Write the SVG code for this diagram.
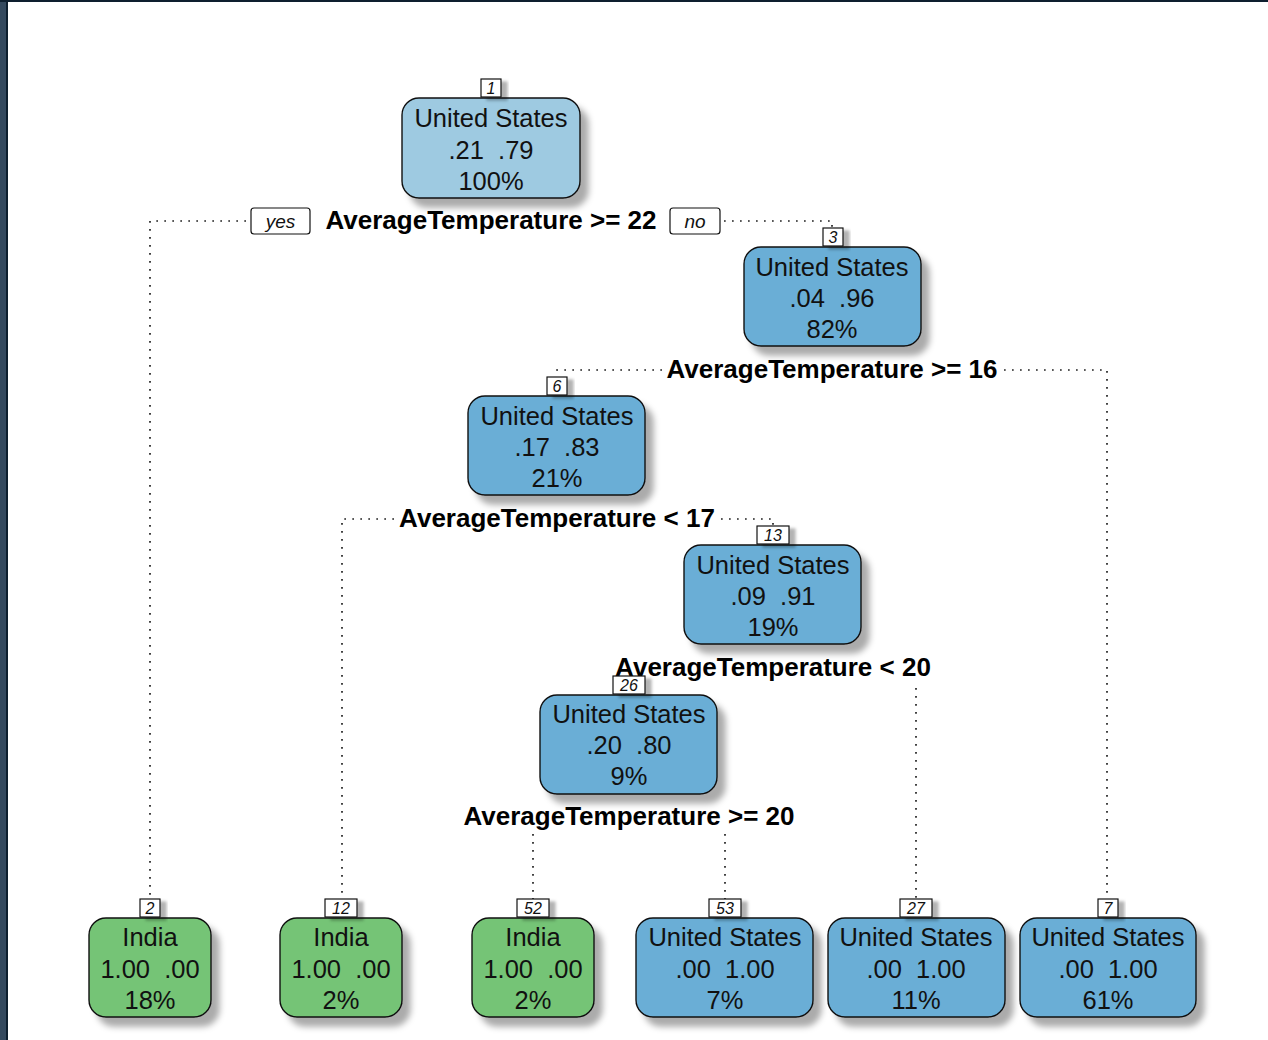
<svg xmlns="http://www.w3.org/2000/svg" width="1268" height="1040" viewBox="0 0 1268 1040">
<defs>
<filter id="sh" x="-10%" y="-10%" width="130%" height="140%">
<feGaussianBlur in="SourceAlpha" stdDeviation="3"/>
<feOffset dx="8" dy="9" result="b"/>
<feFlood flood-color="#000" flood-opacity="0.33"/>
<feComposite in2="b" operator="in"/>
<feMerge><feMergeNode/><feMergeNode in="SourceGraphic"/></feMerge>
</filter>
<filter id="shs" x="-20%" y="-20%" width="160%" height="160%">
<feGaussianBlur in="SourceAlpha" stdDeviation="1.5"/>
<feOffset dx="6" dy="3" result="b"/>
<feFlood flood-color="#000" flood-opacity="0.3"/>
<feComposite in2="b" operator="in"/>
<feMerge><feMergeNode/><feMergeNode in="SourceGraphic"/></feMerge>
</filter>
</defs>
<style>
.box{stroke:#111;stroke-width:1.4;filter:url(#sh)}
.us1{fill:#9ecae1}
.us{fill:#6baed6}
.in{fill:#74c476}
.num{fill:#fff;stroke:#111;stroke-width:1.2;filter:url(#shs)}
.nt{font-family:"Liberation Sans",Arial,sans-serif;font-size:16px;font-style:italic;text-anchor:middle;fill:#111}
.t{font-family:"Liberation Sans",Arial,sans-serif;font-size:25.5px;text-anchor:middle;fill:#111;white-space:pre}
.sp{font-family:"Liberation Sans",Arial,sans-serif;font-size:26px;font-weight:bold;text-anchor:middle;fill:#000}
.yn{font-family:"Liberation Sans",Arial,sans-serif;font-size:19px;font-style:italic;text-anchor:middle;fill:#111}
.ynb{fill:#fff;stroke:#111;stroke-width:1.2}
.c{fill:none;stroke:#222;stroke-width:1.7;stroke-dasharray:1.7 6.3}
</style>
<rect x="0" y="0" width="1268" height="1040" fill="#fff"/>
<rect x="0" y="0" width="6" height="1040" fill="#34495e"/>
<rect x="6" y="0" width="2" height="1040" fill="#0e1f2f"/>
<rect x="0" y="0" width="1268" height="2" fill="#0e1f2f"/>

<g id="connectors">
<polyline class="c" points="246,221 150,221 150,899"/>
<polyline class="c" points="724,221 832,221 832,228"/>
<polyline class="c" points="662,370 557,370 557,377"/>
<polyline class="c" points="1004,370 1107,370 1107,899"/>
<polyline class="c" points="394,519 342,519 342,899"/>
<polyline class="c" points="721,519 773,519 773,526"/>
<polyline class="c" points="916,688 916,899"/>
<polyline class="c" points="533,834 533,899"/>
<polyline class="c" points="725,834 725,899"/>
</g>

<g id="split-labels">
<rect class="ynb" x="251" y="208" width="59" height="26" rx="3"/>
<text class="yn" x="280.5" y="228">yes</text>
<text class="sp" x="491" y="229">AverageTemperature &gt;= 22</text>
<rect class="ynb" x="670" y="208" width="50" height="26" rx="3"/>
<text class="yn" x="695" y="228">no</text>
<text class="sp" x="832" y="378">AverageTemperature &gt;= 16</text>
<text class="sp" x="557" y="527">AverageTemperature &lt; 17</text>
<text class="sp" x="773" y="676">AverageTemperature &lt; 20</text>
<text class="sp" x="629" y="825">AverageTemperature &gt;= 20</text>
</g>

<g id="node1">
<rect class="box us1" x="402" y="98" width="178" height="100" rx="17"/>
<rect class="num" x="481" y="79" width="20" height="18"/>
<text class="nt" x="491" y="94">1</text>
<text class="t" x="491" y="127">United States</text>
<text class="t" x="491" y="159" xml:space="preserve">.21  .79</text>
<text class="t" x="491" y="190">100%</text>
</g>

<g id="node3">
<rect class="box us" x="744" y="247" width="177" height="99" rx="17"/>
<rect class="num" x="823" y="228" width="20" height="18"/>
<text class="nt" x="833" y="243">3</text>
<text class="t" x="832" y="276">United States</text>
<text class="t" x="832" y="307" xml:space="preserve">.04  .96</text>
<text class="t" x="832" y="338">82%</text>
</g>

<g id="node6">
<rect class="box us" x="468" y="396" width="177" height="99" rx="17"/>
<rect class="num" x="547" y="377" width="20" height="18"/>
<text class="nt" x="557" y="392">6</text>
<text class="t" x="557" y="425">United States</text>
<text class="t" x="557" y="456" xml:space="preserve">.17  .83</text>
<text class="t" x="557" y="487">21%</text>
</g>

<g id="node13">
<rect class="box us" x="684" y="545" width="177" height="99" rx="17"/>
<rect class="num" x="757" y="526" width="32" height="18"/>
<text class="nt" x="773" y="541">13</text>
<text class="t" x="773" y="574">United States</text>
<text class="t" x="773" y="605" xml:space="preserve">.09  .91</text>
<text class="t" x="773" y="636">19%</text>
</g>

<g id="node26">
<rect class="box us" x="540" y="695" width="177" height="99" rx="17"/>
<rect class="num" x="613" y="676" width="32" height="18"/>
<text class="nt" x="629" y="691">26</text>
<text class="t" x="629" y="723">United States</text>
<text class="t" x="629" y="754" xml:space="preserve">.20  .80</text>
<text class="t" x="629" y="785">9%</text>
</g>

<g id="node2">
<rect class="box in" x="89" y="918" width="122" height="99" rx="17"/>
<rect class="num" x="140" y="899" width="20" height="18"/>
<text class="nt" x="150" y="914">2</text>
<text class="t" x="150" y="946">India</text>
<text class="t" x="150" y="978" xml:space="preserve">1.00  .00</text>
<text class="t" x="150" y="1009">18%</text>
</g>

<g id="node12">
<rect class="box in" x="280" y="918" width="122" height="99" rx="17"/>
<rect class="num" x="325" y="899" width="32" height="18"/>
<text class="nt" x="341" y="914">12</text>
<text class="t" x="341" y="946">India</text>
<text class="t" x="341" y="978" xml:space="preserve">1.00  .00</text>
<text class="t" x="341" y="1009">2%</text>
</g>

<g id="node52">
<rect class="box in" x="472" y="918" width="122" height="99" rx="17"/>
<rect class="num" x="517" y="899" width="32" height="18"/>
<text class="nt" x="533" y="914">52</text>
<text class="t" x="533" y="946">India</text>
<text class="t" x="533" y="978" xml:space="preserve">1.00  .00</text>
<text class="t" x="533" y="1009">2%</text>
</g>

<g id="node53">
<rect class="box us" x="636" y="918" width="177" height="99" rx="17"/>
<rect class="num" x="709" y="899" width="32" height="18"/>
<text class="nt" x="725" y="914">53</text>
<text class="t" x="725" y="946">United States</text>
<text class="t" x="725" y="978" xml:space="preserve">.00  1.00</text>
<text class="t" x="725" y="1009">7%</text>
</g>

<g id="node27">
<rect class="box us" x="828" y="918" width="177" height="99" rx="17"/>
<rect class="num" x="900" y="899" width="32" height="18"/>
<text class="nt" x="916" y="914">27</text>
<text class="t" x="916" y="946">United States</text>
<text class="t" x="916" y="978" xml:space="preserve">.00  1.00</text>
<text class="t" x="916" y="1009">11%</text>
</g>

<g id="node7">
<rect class="box us" x="1020" y="918" width="176" height="99" rx="17"/>
<rect class="num" x="1098" y="899" width="20" height="18"/>
<text class="nt" x="1108" y="914">7</text>
<text class="t" x="1108" y="946">United States</text>
<text class="t" x="1108" y="978" xml:space="preserve">.00  1.00</text>
<text class="t" x="1108" y="1009">61%</text>
</g>
</svg>
